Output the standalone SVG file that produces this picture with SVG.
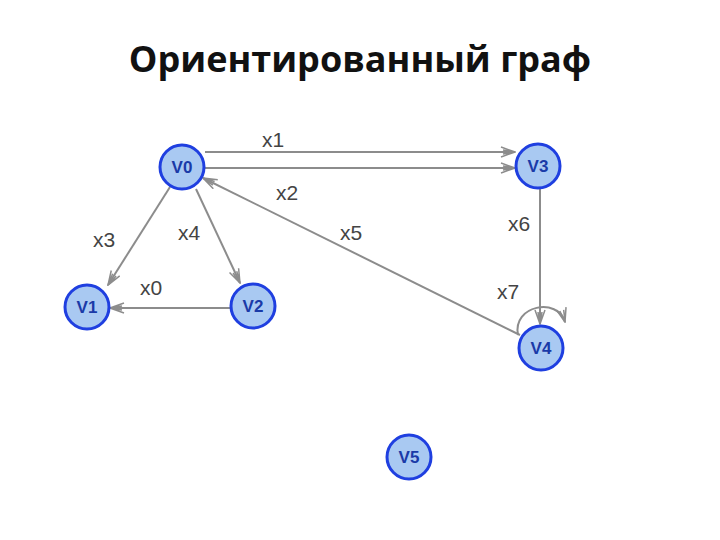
<svg xmlns="http://www.w3.org/2000/svg" width="720" height="540" viewBox="0 0 720 540">
<style>
.title{font-family:"Open Sans","Liberation Sans",sans-serif;font-weight:bold;font-size:36px;fill:#111}
.node circle{fill:#a9c9f2;stroke:#1f3fe0;stroke-width:3}
.node text{font-family:"Liberation Sans",sans-serif;font-weight:bold;font-size:17px;fill:#1a3aa8;text-anchor:middle}
.edge{stroke:#8c8c8c;stroke-width:2;fill:none}
.lbl{font-family:"Liberation Sans",sans-serif;font-size:21px;fill:#444}
</style>
<defs>
<marker id="arr" viewBox="0 0 16 12" refX="15" refY="6" markerWidth="16" markerHeight="12" markerUnits="userSpaceOnUse" orient="auto">
<path d="M1,1 L15,6 L1,11 M3,4 L15,6 L3,8" fill="none" stroke="#8c8c8c" stroke-width="1.5"/>
</marker>
</defs>
<rect width="720" height="540" fill="#fff"/>
<text class="title" x="360" y="72" text-anchor="middle">Ориентированный граф</text>
<g id="connectors">
<line class="edge" x1="205" y1="152" x2="515" y2="152" marker-end="url(#arr)"/>
<line class="edge" x1="205" y1="168" x2="515" y2="168" marker-end="url(#arr)"/>
<line class="edge" x1="520" y1="335" x2="203" y2="178" marker-end="url(#arr)"/>
<line class="edge" x1="170" y1="187" x2="108" y2="285" marker-end="url(#arr)"/>
<line class="edge" x1="196" y1="189" x2="240" y2="283" marker-end="url(#arr)"/>
<line class="edge" x1="230" y1="308" x2="110" y2="308" marker-end="url(#arr)"/>
<line class="edge" x1="540" y1="189" x2="540" y2="324" marker-end="url(#arr)"/>
<path class="edge" d="M518,335 C512,305 558,297 565,322" marker-end="url(#arr)"/>
<text class="lbl" x="262" y="147">x1</text>
<text class="lbl" x="276" y="200">x2</text>
<text class="lbl" x="93" y="247">x3</text>
<text class="lbl" x="178" y="240">x4</text>
<text class="lbl" x="340" y="240">x5</text>
<text class="lbl" x="508" y="231">x6</text>
<text class="lbl" x="497" y="299">x7</text>
<text class="lbl" x="140" y="295">x0</text>
</g>
<g id="V0" class="node"><circle cx="182" cy="167" r="22"/><text x="182" y="173">V0</text></g>
<g id="V3" class="node"><circle cx="538" cy="166" r="22"/><text x="538" y="172">V3</text></g>
<g id="V1" class="node"><circle cx="87" cy="307" r="22"/><text x="87" y="313">V1</text></g>
<g id="V2" class="node"><circle cx="253" cy="306" r="22"/><text x="253" y="312">V2</text></g>
<g id="V4" class="node"><circle cx="541" cy="348" r="22"/><text x="541" y="354">V4</text></g>
<g id="V5" class="node"><circle cx="409" cy="457" r="22"/><text x="409" y="463">V5</text></g>
</svg>
